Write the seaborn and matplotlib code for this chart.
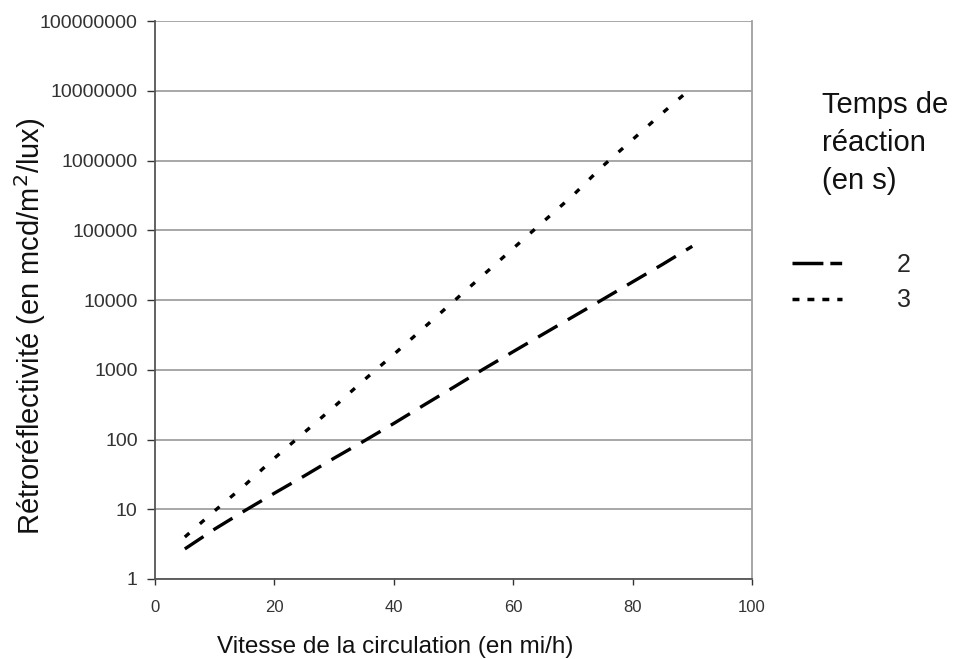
import numpy as np
import pandas as pd
import seaborn as sns
from matplotlib import pyplot as plt
from matplotlib.lines import Line2D
from matplotlib.ticker import FixedLocator, FixedFormatter, NullLocator

# values
vitesse = [5, 10, 15, 20, 25, 30, 35, 40, 45, 50, 55, 60, 65, 70, 75, 80, 85, 90]
retro_2s = [2.7, 5.2, 9.5, 17, 30, 54, 95, 170, 310, 560, 1020, 1820, 3240,
            5750, 10200, 18200, 32400, 59000]
retro_3s = [4.0, 9.5, 22, 54, 126, 295, 710, 1660, 3980, 9550, 22900, 55000,
            132000, 316000, 832000, 2000000, 4800000, 11200000]
temps = ['2', '3']
y_ticks = [1, 10, 100, 1000, 10000, 100000, 1000000, 10000000, 100000000]
x_ticks = [0, 20, 40, 60, 80, 100]

df = pd.concat([
    pd.DataFrame({'vitesse': vitesse, 'retro': retro_2s, 'temps': temps[0]}),
    pd.DataFrame({'vitesse': vitesse, 'retro': retro_3s, 'temps': temps[1]}),
])

sns.set_theme(style='white')
plt.rcParams['font.family'] = ['Liberation Sans', 'DejaVu Sans']

fig = plt.figure(figsize=(9.55, 6.59), dpi=100)
ax = fig.add_axes([0.1623, 0.1214, 0.7874 - 0.1623, 0.968 - 0.1214])

sns.lineplot(data=df, x='vitesse', y='retro', style='temps', color='black',
             dashes={'2': (6.7, 3.6), '3': (1.8, 4.2)}, linewidth=2.4,
             legend=False, ax=ax)
for ln in ax.lines:
    ln.set_dash_capstyle('butt')

ax.set_yscale('log')
ax.set_xlim(0, 100)
ax.set_ylim(1, 1e8)
ax.yaxis.set_major_locator(FixedLocator(y_ticks))
ax.yaxis.set_major_formatter(FixedFormatter([str(v) for v in y_ticks]))
ax.yaxis.set_minor_locator(NullLocator())
ax.set_xticks(x_ticks)
ax.tick_params(axis='y', labelsize=14, colors='#333333', length=6,
               width=1, direction='out', left=True, pad=6.5)
ax.tick_params(axis='x', labelsize=12, colors='#333333', length=4,
               width=1, direction='out', bottom=True, pad=11)
ax.grid(axis='y', color='#a0a0a0', linewidth=1.3)
ax.grid(axis='x', visible=False)

for side in ['left', 'bottom']:
    ax.spines[side].set_color('#555555')
    ax.spines[side].set_linewidth(1.3)
ax.spines['right'].set_color('#a0a0a0')
ax.spines['right'].set_linewidth(1.3)
ax.spines['top'].set_visible(False)

ax.set_xlabel('Vitesse de la circulation (en mi/h)', fontsize=17.5,
              color='#111111')
ax.xaxis.set_label_coords(0.402, -0.102)
ax.set_ylabel('Rétroréflectivité (en mcd/m$^2$/lux)', fontsize=21,
              color='#111111')
ax.yaxis.set_label_coords(-0.18, 0.452)

# legend: title as text, entries as proxy lines
fig.text(0.861, 0.862, 'Temps de\nréaction\n(en s)', fontsize=21,
         va='top', ha='left', linespacing=1.45, color='#111111')
handles = [Line2D([], [], color='black', linewidth=2.5, dashes=(8.9, 2, 3.4, 20),
                  dash_capstyle='butt'),
           Line2D([], [], color='black', linewidth=2.5, dashes=(2, 2.3),
                  dash_capstyle='butt')]
fig.legend(handles=handles, labels=temps, loc='upper left',
           bbox_to_anchor=(0.829, 0.616), frameon=False, fontsize=18,
           handlelength=2.0, handletextpad=2.2, labelspacing=0.45,
           borderpad=0, borderaxespad=0)

plt.savefig('out.png', dpi=100)
